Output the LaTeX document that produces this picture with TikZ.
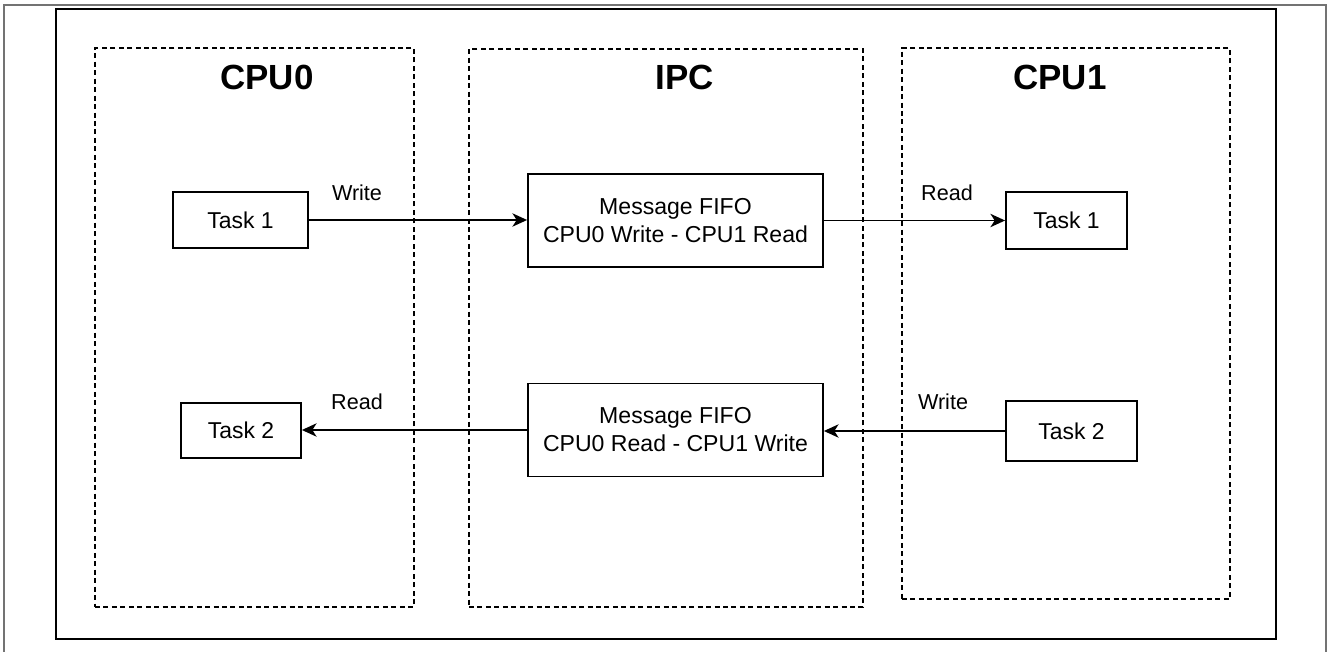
\documentclass[tikz,border=0pt]{standalone}
\usepackage{fontspec}
\setmainfont{Liberation Sans}
\usetikzlibrary{arrows.meta}
\begin{document}
\begin{tikzpicture}[x=0.75pt,y=-0.75pt,
  frame/.style={draw=black, line width=1.6pt},
  edgeframe/.style={draw=black!55, line width=0.8pt},
  group/.style={draw=black, line width=1.2pt, dash pattern=on 3.75pt off 2.6pt, inner sep=0pt},
  title/.style={font=\bfseries\fontsize{26.2}{30}\selectfont, inner sep=0pt},
  task/.style={draw=black, line width=1.35pt, inner sep=0pt, font=\fontsize{17.2}{20}\selectfont},
  fifo/.style={draw=black, line width=1.35pt, inner sep=0pt, align=center,
               minimum width=221.25pt, minimum height=69.75pt,
               font=\fontsize{17.3}{21}\selectfont},
  link/.style={line width=1.35pt, -{Stealth[length=11pt, width=10pt, inset=3.2pt]}},
  lbl/.style={font=\fontsize{16.2}{18}\selectfont, inner sep=0pt}]

  % page extent
  \useasboundingbox (0,0) rectangle (1327,652);

  % frames
  \draw[edgeframe] (4,652) -- (4,5) -- (1326,5) -- (1326,652);
  \draw[frame] (56,9) rectangle (1276,639);

  % processor / IPC regions
  \node[group, minimum width=239.25pt, minimum height=419.25pt] (cpu0) at (254.5,327.5) {};
  \node[group, minimum width=295.5pt,  minimum height=418.5pt]  (ipc)  at (666,328) {};
  \node[group, minimum width=246pt,    minimum height=413.25pt] (cpu1) at (1066,323.5) {};

  \node[title] (tcpu0) at (267,77)  {CPU0};
  \node[title] (tipc)  at (685,77)  {IPC};
  \node[title] (tcpu1) at (1060,77) {CPU1};

  % tasks
  \node[task, minimum width=101.25pt, minimum height=42pt]    (a1) at (240.5,220) {Task 1};
  \node[task, minimum width=90pt,     minimum height=41.25pt] (a2) at (241,430.5) {Task 2};
  \node[task, minimum width=90.75pt,  minimum height=42.75pt] (b1) at (1066.5,220.5) {Task 1};
  \node[task, minimum width=98.25pt,  minimum height=45pt]    (b2) at (1071.5,431) {Task 2};

  % message FIFOs
  \node[fifo] (f1) at (675.5,220.5) {Message FIFO\\CPU0 Write - CPU1 Read};
  \node[fifo] (f2) at (675.5,430)   {Message FIFO\\CPU0 Read - CPU1 Write};

  % message flow
  \draw[link] (a1) -- (a1 -| f1.west);
  \draw[link] (f1) -- (f1 -| b1.west);
  \draw[link] (b2) -- (b2 -| f2.east);
  \draw[link] (f2) -- (f2 -| a2.east);

  \node[lbl] (l1) at (357,193) {Write};
  \node[lbl] (l2) at (947,193) {Read};
  \node[lbl] (l3) at (943,402) {Write};
  \node[lbl] (l4) at (357,402) {Read};
\end{tikzpicture}
\end{document}
